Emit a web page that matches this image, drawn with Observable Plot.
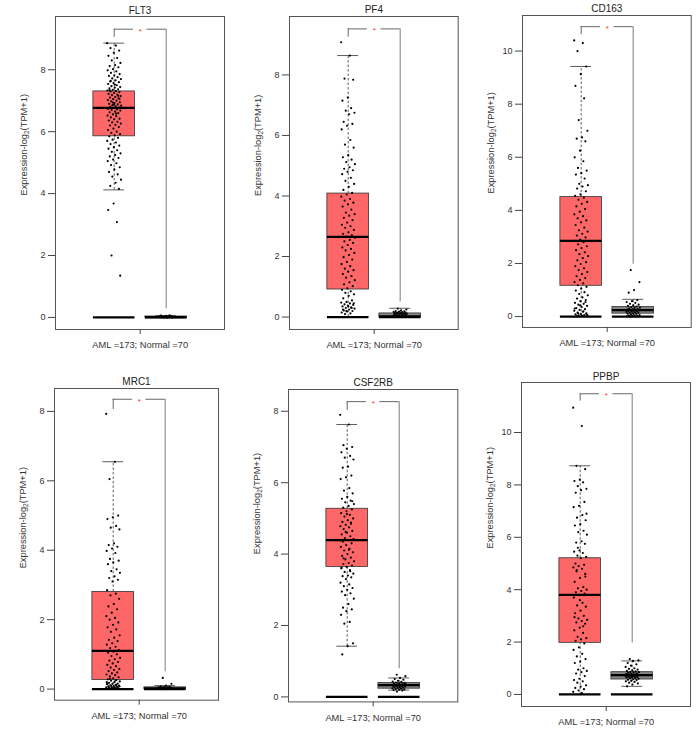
<!DOCTYPE html>
<html>
<head>
<meta charset="utf-8">
<script src="https://cdn.jsdelivr.net/npm/d3@7"></script>
<script src="https://cdn.jsdelivr.net/npm/@observablehq/plot@0.6"></script>
<style>
  body { margin: 0; background: #fff; }
  #chart { position: relative; width: 700px; height: 729px; overflow: hidden; background: #fff; }
  #chart svg { position: absolute; background: transparent; }
</style>
</head>
<body>
<div id="chart"></div>
<script>
// ---------------- data ----------------
const genes = ["FLT3", "PF4", "CD163", "MRC1", "CSF2RB", "PPBP"];
const amlN = [173, 173, 173, 173, 173, 173];
const normalN = [70, 70, 70, 70, 70, 70];
const yTicks = [[0,2,4,6,8],[0,2,4,6,8],[0,2,4,6,8,10],[0,2,4,6,8],[0,2,4,6,8],[0,2,4,6,8,10]];
const yLabel = "Expression-log2(TPM+1)";

// box statistics
const amlQ1     = [5.85, 0.91, 1.16, 0.26, 3.64, 1.97];
const amlMedian = [6.77, 2.65, 2.85, 1.10, 4.39, 3.80];
const amlQ3     = [7.30, 4.08, 4.50, 2.80, 5.27, 5.20];
const amlLow    = [4.12, 0, 0, 0, 1.42, 0];
const amlHigh   = [8.86, 8.64, 9.42, 6.55, 7.63, 8.73];
const normalQ1     = [0, 0, 0.11, 0, 0.23, 0.57];
const normalMedian = [0.01, 0.02, 0.24, 0.02, 0.33, 0.74];
const normalQ3     = [0.03, 0.12, 0.36, 0.05, 0.39, 0.85];
const normalLow    = [0, 0, 0, 0, 0.19, 0.31];
const normalHigh   = [0.06, 0.29, 0.65, 0.10, 0.53, 1.28];

// significance bracket
const bracketTop = [9.31, 9.52, 10.92, 8.35, 8.27, 11.48];
const bracketAmlEnd = [9.05, 9.25, 10.62, 8.05, 8.02, 11.2];
const bracketNormalEnd = [0.28, 0.5, 1.97, 0.5, 0.79, 1.96];
const significance = ["*", "*", "*", "*", "*", "*"];

// sample values
const flt3Aml = [8.86, 8.78, 8.7, 8.62, 8.55, 8.45, 8.38, 8.3, 8.22, 8.15, 8.12, 8.08, 8.02, 7.98, 7.95, 7.9, 7.86, 7.82, 7.8, 7.76, 7.72, 7.7, 7.66, 7.62, 7.6, 7.57, 7.54, 7.5, 7.47, 7.44, 7.42, 7.4, 7.37, 7.35, 7.33, 7.31, 7.3, 7.28, 7.25, 7.22, 7.2, 7.18, 7.15, 7.12, 7.1, 7.08, 7.05, 7.02, 7.0, 6.98, 6.95, 6.92, 6.9, 6.88, 6.86, 6.84, 6.82, 6.8, 6.78, 6.77, 6.75, 6.72, 6.7, 6.68, 6.65, 6.62, 6.6, 6.56, 6.52, 6.5, 6.46, 6.42, 6.4, 6.36, 6.32, 6.3, 6.26, 6.22, 6.2, 6.15, 6.1, 6.05, 6.0, 5.96, 5.92, 5.88, 5.85, 5.8, 5.74, 5.7, 5.65, 5.6, 5.55, 5.5, 5.45, 5.4, 5.35, 5.3, 5.25, 5.2, 5.15, 5.1, 5.05, 4.98, 4.92, 4.85, 4.78, 4.7, 4.62, 4.55, 4.45, 4.35, 4.25, 4.15, 3.68, 3.47, 3.08, 2.0, 1.35, 7.52, 7.34, 7.16, 6.94, 6.74, 6.58, 7.64, 7.06, 6.87];
const flt3Normal = [0, 0, 0, 0.01, 0.01, 0.02, 0.02, 0.03, 0.03, 0.04, 0.05, 0.06, 0.07, 0.02, 0.01, 0, 0.01, 0.03, 0.04, 0.05];

const pf4Aml = [9.08, 8.64, 7.88, 7.84, 7.25, 7.15, 6.9, 6.82, 6.75, 6.7, 6.45, 6.38, 6.32, 6.2, 5.85, 5.7, 5.6, 5.35, 5.28, 5.2, 5.12, 5.05, 4.95, 4.9, 4.85, 4.8, 4.72, 4.6, 4.5, 4.4, 4.3, 4.2, 4.1, 4.05, 3.98, 3.9, 3.85, 3.78, 3.72, 3.65, 3.55, 3.45, 3.4, 3.35, 3.28, 3.2, 3.12, 3.05, 3.0, 2.95, 2.88, 2.8, 2.75, 2.7, 2.66, 2.62, 2.55, 2.5, 2.45, 2.38, 2.3, 2.25, 2.2, 2.12, 2.05, 1.98, 1.9, 1.82, 1.75, 1.68, 1.6, 1.55, 1.5, 1.42, 1.35, 1.3, 1.22, 1.15, 1.08, 1.02, 0.95, 0.9, 0.85, 0.8, 0.75, 0.7, 0.62, 0.55, 0.5, 0.48, 0.45, 0.42, 0.4, 0.38, 0.35, 0.32, 0.3, 0.28, 0.25, 0.22, 0.2, 0.18, 0.15, 0.12, 0.1, 0.45, 0.35, 0.25, 0.3, 0.2];
const pf4Normal = [0.28, 0.25, 0.22, 0.2, 0.19, 0.18, 0.17, 0.16, 0.15, 0.15, 0.14, 0.13, 0.12, 0.12, 0.11, 0.1, 0.1, 0.09, 0.08, 0.07, 0.06, 0.05, 0.04, 0.03, 0.02, 0.01, 0, 0, 0];

const cd163Aml = [10.4, 10.3, 10.0, 9.42, 9.13, 8.69, 8.22, 7.4, 7.0, 6.75, 6.7, 6.6, 6.25, 6.0, 5.85, 5.6, 5.5, 5.4, 5.35, 5.2, 5.0, 4.95, 4.9, 4.82, 4.72, 4.6, 4.55, 4.48, 4.4, 4.32, 4.25, 4.15, 4.05, 3.95, 3.85, 3.78, 3.7, 3.62, 3.55, 3.45, 3.35, 3.25, 3.2, 3.12, 3.05, 2.98, 2.9, 2.85, 2.8, 2.72, 2.65, 2.58, 2.5, 2.42, 2.35, 2.28, 2.2, 2.12, 2.05, 1.98, 1.9, 1.82, 1.75, 1.68, 1.6, 1.52, 1.45, 1.38, 1.3, 1.25, 1.18, 1.12, 1.05, 0.98, 0.92, 0.85, 0.8, 0.72, 0.68, 0.62, 0.58, 0.52, 0.48, 0.45, 0.4, 0.36, 0.32, 0.28, 0.25, 0.22, 0.18, 0.15, 0.12, 0.1, 0.08, 0.06, 0.05, 0.04, 0.03, 0.02, 0.55, 0.42, 0.3, 0.2, 0.12, 0.08];
const cd163Normal = [1.75, 1.3, 1.0, 0.9, 0.62, 0.58, 0.55, 0.52, 0.48, 0.45, 0.42, 0.4, 0.38, 0.36, 0.34, 0.32, 0.3, 0.28, 0.27, 0.26, 0.25, 0.24, 0.23, 0.22, 0.21, 0.2, 0.19, 0.18, 0.16, 0.15, 0.14, 0.12, 0.11, 0.1, 0.08, 0.06, 0.05, 0.04, 0.03, 0.02, 0.01, 0.0, 0.0];

const mrc1Aml = [7.93, 6.55, 6.05, 5.0, 4.95, 4.9, 4.7, 4.65, 4.6, 4.2, 4.15, 4.1, 4.05, 3.98, 3.92, 3.75, 3.7, 3.65, 3.6, 3.45, 3.4, 3.35, 3.25, 3.2, 3.15, 3.1, 2.85, 2.75, 2.7, 2.6, 2.45, 2.38, 2.3, 2.2, 2.1, 2.05, 2.0, 1.92, 1.85, 1.78, 1.72, 1.65, 1.55, 1.48, 1.42, 1.38, 1.32, 1.28, 1.22, 1.18, 1.12, 1.08, 1.05, 1.0, 0.95, 0.9, 0.86, 0.82, 0.78, 0.74, 0.7, 0.66, 0.62, 0.58, 0.55, 0.52, 0.48, 0.45, 0.42, 0.4, 0.37, 0.34, 0.31, 0.28, 0.26, 0.24, 0.22, 0.2, 0.18, 0.16, 0.15, 0.14, 0.12, 0.11, 0.1, 0.09, 0.08, 0.07, 0.06, 0.05, 0.04, 0.03, 0.02, 0.01, 0.15, 0.12, 0.1, 0.08, 0.06, 0.05, 0.04, 0.03, 0.2, 0.25, 0.3];
const mrc1Normal = [0.32, 0.15, 0.1, 0.08, 0.07, 0.06, 0.05, 0.05, 0.04, 0.04, 0.03, 0.03, 0.02, 0.02, 0.02, 0.01, 0.01, 0.01, 0, 0, 0];

const csf2rbAml = [7.9, 7.63, 7.05, 7.0, 6.95, 6.85, 6.75, 6.7, 6.65, 6.45, 6.42, 6.2, 6.15, 6.1, 5.85, 5.78, 5.7, 5.6, 5.55, 5.5, 5.45, 5.4, 5.35, 5.3, 5.25, 5.2, 5.15, 5.1, 5.05, 5.0, 4.95, 4.9, 4.85, 4.82, 4.78, 4.75, 4.7, 4.65, 4.6, 4.55, 4.5, 4.45, 4.42, 4.39, 4.35, 4.3, 4.25, 4.2, 4.15, 4.1, 4.05, 4.0, 3.95, 3.9, 3.85, 3.8, 3.75, 3.72, 3.68, 3.64, 3.6, 3.55, 3.5, 3.45, 3.4, 3.38, 3.35, 3.3, 3.2, 3.15, 3.1, 3.05, 3.0, 2.95, 2.9, 2.85, 2.75, 2.6, 2.5, 2.45, 2.4, 2.3, 2.1, 2.05, 1.5, 1.42, 1.19, 4.88, 4.62, 4.38, 4.12, 3.88, 5.48, 5.12, 3.62, 3.52];
const csf2rbNormal = [0.62, 0.58, 0.53, 0.5, 0.48, 0.45, 0.43, 0.42, 0.4, 0.39, 0.38, 0.37, 0.36, 0.35, 0.35, 0.34, 0.33, 0.33, 0.32, 0.31, 0.3, 0.3, 0.29, 0.28, 0.27, 0.26, 0.25, 0.24, 0.23, 0.22, 0.21, 0.2, 0.19, 0.18, 0.15];

const ppbpAml = [10.95, 10.25, 8.73, 8.6, 8.2, 8.15, 8.1, 7.95, 7.85, 7.8, 7.7, 7.35, 7.2, 7.15, 6.85, 6.75, 6.65, 6.5, 6.45, 6.25, 6.2, 6.1, 5.85, 5.8, 5.75, 5.5, 5.45, 5.4, 5.3, 5.25, 5.2, 5.0, 4.95, 4.9, 4.85, 4.8, 4.75, 4.5, 4.45, 4.3, 4.1, 4.05, 4.0, 3.95, 3.9, 3.85, 3.8, 3.7, 3.5, 3.4, 3.35, 3.2, 3.1, 3.0, 2.9, 2.85, 2.8, 2.75, 2.7, 2.55, 2.45, 2.35, 2.2, 2.15, 2.1, 2.05, 1.95, 1.8, 1.7, 1.55, 1.45, 1.35, 1.25, 1.2, 1.0, 0.95, 0.9, 0.85, 0.8, 0.7, 0.6, 0.55, 0.5, 0.45, 0.35, 0.3, 0.25, 0.2, 0.15, 0.1, 0.05, 4.7, 4.6, 3.6, 2.95, 2.6, 5.6, 6.9];
const ppbpNormal = [1.35, 1.3, 1.28, 1.2, 1.15, 1.1, 1.05, 1.0, 0.98, 0.95, 0.92, 0.9, 0.88, 0.86, 0.85, 0.84, 0.82, 0.8, 0.79, 0.78, 0.77, 0.76, 0.75, 0.74, 0.73, 0.72, 0.71, 0.7, 0.69, 0.68, 0.67, 0.66, 0.65, 0.63, 0.62, 0.6, 0.58, 0.56, 0.55, 0.52, 0.5, 0.48, 0.45, 0.42, 0.38, 0.31];

const amlValues = [flt3Aml, pf4Aml, cd163Aml, mrc1Aml, csf2rbAml, ppbpAml];
const normalValues = [flt3Normal, pf4Normal, cd163Normal, mrc1Normal, csf2rbNormal, ppbpNormal];

// ---------------- layout (page pixels) ----------------
const layout = [
  {left: 55,    top: 16,    fw: 169,   fh: 313,   yDomain: [-0.39, 9.72],  labDy: 22.5},
  {left: 289.3, top: 16,    fw: 168.7, fh: 313,   yDomain: [-0.41, 9.93],  labDy: 23},
  {left: 522,   top: 14.7,  fw: 168.7, fh: 312,   yDomain: [-0.41, 11.34], labDy: 22},
  {left: 54.3,  top: 388.3, fw: 164,   fh: 311.7, yDomain: [-0.32, 8.66],  labDy: 24},
  {left: 287.7, top: 389.3, fw: 169.3, fh: 312.4, yDomain: [-0.14, 8.61],  labDy: 8.5},
  {left: 521.3, top: 382,   fw: 169,   fh: 324,   yDomain: [-0.46, 11.91], labDy: 4}
];
const ML = 55, MR = 8, MT = 16, MB = 24;
const unit = 52, firstCenter = 58.7, halfBox = 0.4, halfCap = 0.2, jitterW = 0.27, gap = 0.13;
const font = "'Liberation Sans', Arial, Helvetica, sans-serif";

const chart = document.getElementById("chart");

genes.forEach((gene, i) => {
  const L = layout[i];
  const width = ML + L.fw + MR, height = MT + L.fh + MB;
  const xDomain = [1 - firstCenter / unit, 1 + (L.fw - firstCenter) / unit];
  const boxes = [
    {g: 1, q1: amlQ1[i], med: amlMedian[i], q3: amlQ3[i], lo: amlLow[i], hi: amlHigh[i], fill: "#fe6767"},
    {g: 2, q1: normalQ1[i], med: normalMedian[i], q3: normalQ3[i], lo: normalLow[i], hi: normalHigh[i], fill: "#858585"}
  ];
  const pts = [
    ...amlValues[i].map((v, j) => ({g: 1, v, j})),
    ...normalValues[i].map((v, j) => ({g: 2, v, j: j + 7}))
  ];
  const jitter = d => d.g + (((d.j * 0.6180339887) % 1) - 0.5) * jitterW;
  const br = {top: bracketTop[i], a: bracketAmlEnd[i], n: bracketNormalEnd[i]};
  const xLabel = `AML =${amlN[i]}; Normal =${normalN[i]}`;

  const svg = Plot.plot({
    width, height,
    marginLeft: ML, marginRight: MR, marginTop: MT, marginBottom: MB,
    style: {fontFamily: font, fontSize: "9px", color: "#333", background: "transparent"},
    x: {type: "linear", domain: xDomain, axis: null, label: null},
    y: {domain: L.yDomain, axis: null, label: null},
    marks: [
      // boxes
      Plot.rect(boxes, {x1: d => d.g - halfBox, x2: d => d.g + halfBox, y1: "q1", y2: "q3",
        fill: "fill", stroke: "#333", strokeWidth: 0.8}),
      // whiskers
      Plot.ruleX(boxes, {x: "g", y1: "q3", y2: "hi", stroke: "#333", strokeWidth: 0.8, strokeDasharray: "2.5,2"}),
      Plot.ruleX(boxes, {x: "g", y1: "lo", y2: "q1", stroke: "#333", strokeWidth: 0.8, strokeDasharray: "2.5,2"}),
      Plot.ruleY(boxes, {y: "hi", x1: d => d.g - halfCap, x2: d => d.g + halfCap, stroke: "#333", strokeWidth: 0.8}),
      Plot.ruleY(boxes, {y: "lo", x1: d => d.g - halfCap, x2: d => d.g + halfCap, stroke: "#333", strokeWidth: 0.8}),
      // zero baseline bars
      Plot.ruleY(boxes, {y: 0, x1: d => d.g - halfBox, x2: d => d.g + halfBox, stroke: "#000", strokeWidth: 2.2}),
      // medians
      Plot.ruleY(boxes, {y: "med", x1: d => d.g - halfBox, x2: d => d.g + halfBox, stroke: "#000", strokeWidth: 2.3}),
      // jittered samples
      Plot.dot(pts, {x: jitter, y: "v", r: 1.1, fill: "#000", stroke: null}),
      // significance bracket
      Plot.ruleX([br], {x: 1, y1: "a", y2: "top", stroke: "#666", strokeWidth: 1}),
      Plot.ruleX([br], {x: 2, y1: "n", y2: "top", stroke: "#888", strokeWidth: 1.1}),
      Plot.ruleY([br], {y: "top", x1: 1, x2: 1.5 - gap, stroke: "#666", strokeWidth: 1}),
      Plot.ruleY([br], {y: "top", x1: 1.5 + gap, x2: 2, stroke: "#666", strokeWidth: 1}),
      Plot.text([br], {x: 1.5, y: "top", text: () => significance[i], fill: "#ff3030", fontSize: 8, dy: 2}),
      // frame and axes
      Plot.frame({stroke: "#555", strokeWidth: 1}),
      Plot.axisY(yTicks[i], {tickSize: 7, tickPadding: 3, fontSize: 9, stroke: "#444", label: null}),
      Plot.axisX([1.5], {tickSize: 5, tickPadding: 7, fontSize: 9.3, stroke: "#444", label: null, tickFormat: () => xLabel}),
      Plot.text([gene], {frameAnchor: "top", lineAnchor: "bottom", dy: -3, fontSize: 10, fill: "#222"}),
      Plot.text([yLabel], {frameAnchor: "left", rotate: -90, dx: -31.5, dy: L.labDy, fontSize: 9.3, fill: "#333", className: "ylab"})
    ]
  });
  svg.style.left = (L.left - ML) + "px";
  svg.style.top = (L.top - MT) + "px";
  svg.style.maxWidth = "none";
  // subscript for log2
  svg.querySelectorAll(".ylab text").forEach(t => {
    const s = t.textContent;
    const k = s.indexOf("log2");
    if (k >= 0) {
      t.textContent = "";
      const ns = "http://www.w3.org/2000/svg";
      const a = document.createElementNS(ns, "tspan"); a.textContent = s.slice(0, k + 3);
      const b = document.createElementNS(ns, "tspan"); b.textContent = "2"; b.setAttribute("font-size", "6.5"); b.setAttribute("dy", "2");
      const c = document.createElementNS(ns, "tspan"); c.textContent = s.slice(k + 4); c.setAttribute("dy", "-2");
      t.append(a, b, c);
    }
  });
  chart.appendChild(svg);
});
</script>
</body>
</html>
